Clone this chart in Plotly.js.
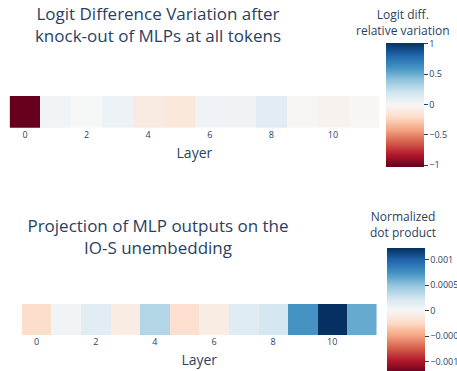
<!DOCTYPE html>
<html>
<head>
<meta charset="utf-8">
<script src="https://cdn.plot.ly/plotly-3.0.1.min.js"></script>
<style>
  html, body { margin: 0; padding: 0; width: 457px; height: 371px; overflow: hidden; background: #fff; }
  #knockout { position: absolute; left: 0; top: 0; width: 457px; height: 185px; }
  #projection { position: absolute; left: 0; top: 185px; width: 457px; height: 200px; }
</style>
</head>
<body>
<div id="knockout"></div>
<div id="projection"></div>
<script>
// Layer indices of the MLP blocks
const layers = [0, 1, 2, 3, 4, 5, 6, 7, 8, 9, 10, 11];
// Relative change of the logit difference when each MLP is knocked out
const logitDiffVariation = [-1.02, 0.035, 0.005, 0.06, -0.09, -0.11, 0.04, 0.04, 0.12, -0.02, -0.04, -0.01];
// Normalized dot product of each MLP output with the IO-S unembedding direction
const ioSProjection = [-0.00022, 0.00004, 0.00014, -0.0001, 0.00036, -0.00021, -0.0001, 0.00015, 0.00022, 0.00073, 0.00122, 0.00062];
// Tick labels on the layer axis
const layerTicks = [0, 2, 4, 6, 8, 10];
// Colorbar ticks
const knockoutCbTicks = [-1, -0.5, 0, 0.5, 1];
const knockoutCbText = ['−1', '−0.5', '0', '0.5', '1'];
const projectionCbTicks = [-0.001, -0.0005, 0, 0.0005, 0.001];
const projectionCbText = ['−0.001', '−0.0005', '0', '0.0005', '0.001'];

// Diverging red-blue scale (ColorBrewer RdBu)
const rdbuColors = ['rgb(103,0,31)', 'rgb(178,24,43)', 'rgb(214,96,77)', 'rgb(244,165,130)',
  'rgb(253,219,199)', 'rgb(247,247,247)', 'rgb(209,229,240)', 'rgb(146,197,222)',
  'rgb(67,147,195)', 'rgb(33,102,172)', 'rgb(5,48,97)'];
const rdbu = rdbuColors.map((c, i) => [i / (rdbuColors.length - 1), c]);

const FONT = '"Open Sans", verdana, arial, sans-serif';
const INK = '#2a3f5f';

function drawStrip(divId, cfg) {
  const W = 457, H = cfg.height;
  const zmax = Math.max(...cfg.values.map(Math.abs));
  const trace = {
    type: 'heatmap',
    x: layers,
    y: [0],
    z: [cfg.values],
    colorscale: rdbu,
    zmin: -zmax,
    zmax: zmax,
    hovertemplate: 'Layer %{x}<br>%{z}<extra></extra>',
    colorbar: {
      thickness: 38, thicknessmode: 'pixels',
      len: cfg.cbLen, lenmode: 'pixels',
      x: cfg.cbLeft / W, xanchor: 'left', xpad: 0,
      y: 1 - cfg.cbMid / H, yanchor: 'middle', ypad: 0,
      outlinewidth: 0,
      ticks: 'outside', ticklen: 4, tickcolor: INK, tickwidth: 1,
      tickvals: cfg.cbTicks, ticktext: cfg.cbText,
      tickfont: { family: FONT, size: 9, color: INK }
    }
  };
  const layout = {
    width: W, height: H,
    margin: { l: 0, r: 0, t: 0, b: 0, pad: 0, autoexpand: false },
    paper_bgcolor: '#fff', plot_bgcolor: '#fff',
    font: { family: FONT, color: INK },
    title: {
      text: cfg.title,
      font: { family: FONT, size: 17, color: INK },
      x: cfg.titleX / W, xref: 'paper', xanchor: 'center',
      y: 1 - cfg.titleTop / H, yref: 'container', yanchor: 'top'
    },
    xaxis: {
      domain: [cfg.plotLeft / W, cfg.plotRight / W],
      range: [-0.5, 11.5],
      tickvals: layerTicks,
      ticks: '', showgrid: false, zeroline: false, showline: false,
      tickfont: { family: FONT, size: 9, color: INK },
      automargin: false,
      title: { text: 'Layer', font: { family: FONT, size: 14, color: INK }, standoff: 8 }
    },
    yaxis: {
      domain: [1 - cfg.plotBottom / H, 1 - cfg.plotTop / H],
      range: [-0.5, 0.5],
      showticklabels: false, ticks: '', showgrid: false, zeroline: false,
      automargin: false
    },
    annotations: [{
      text: cfg.cbTitle, showarrow: false, align: 'center',
      xref: 'paper', yref: 'paper',
      x: cfg.cbTitleX / W, xanchor: 'center',
      y: 1 - cfg.cbTitleTop / H, yanchor: 'top',
      font: { family: FONT, size: 12, color: INK }
    }]
  };
  Plotly.newPlot(divId, [trace], layout, { displayModeBar: false, staticPlot: true });
}

drawStrip('knockout', {
  height: 185,
  values: logitDiffVariation,
  title: 'Logit Difference Variation after<br>knock-out of MLPs at all tokens',
  titleX: 158, titleTop: 20,
  plotLeft: 9.6, plotRight: 379.2, plotTop: 96, plotBottom: 127.7,
  cbLeft: 386, cbMid: 104.5, cbLen: 124.4,
  cbTicks: knockoutCbTicks, cbText: knockoutCbText,
  cbTitle: 'Logit diff.<br>relative variation', cbTitleX: 403, cbTitleTop: 4
});

drawStrip('projection', {
  height: 200,
  values: ioSProjection,
  title: 'Projection of MLP outputs on the<br>IO-S unembedding',
  titleX: 158, titleTop: 47,
  plotLeft: 21.9, plotRight: 376.6, plotTop: 119, plotBottom: 150,
  cbLeft: 387, cbMid: 125.7, cbLen: 125.4,
  cbTicks: projectionCbTicks, cbText: projectionCbText,
  cbTitle: 'Normalized<br>dot product', cbTitleX: 403, cbTitleTop: 21
});
</script>
</body>
</html>
